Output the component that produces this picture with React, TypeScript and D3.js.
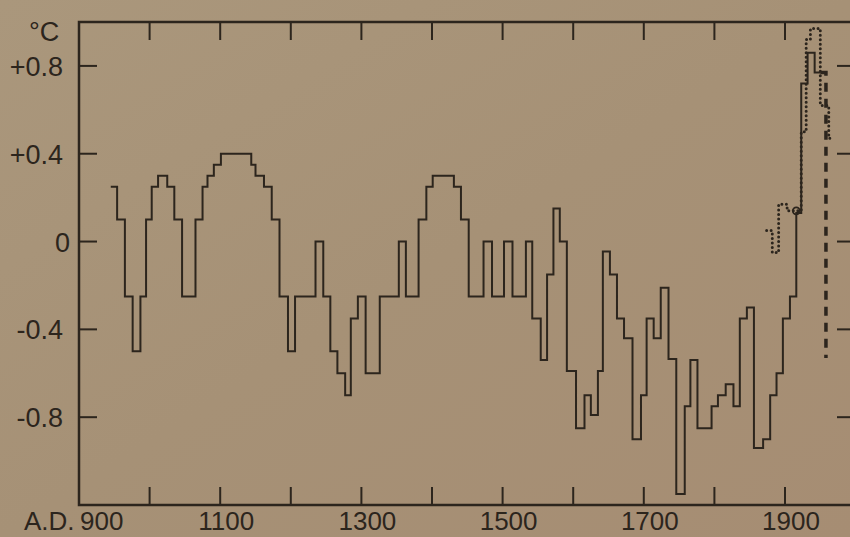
import React from 'react';
import * as d3 from 'd3';

// Main (solid) series: step starts (year) and temperature anomaly (°C)
const mainYears = [
  945, 954, 965, 976, 987, 995, 1003, 1012, 1025, 1035, 1046, 1065, 1075, 1082, 1091, 1101,
  1144, 1150, 1162, 1173, 1184, 1196, 1206, 1235, 1246, 1256, 1266, 1277, 1285, 1295, 1306,
  1326, 1353, 1363, 1381, 1392, 1401, 1431, 1441, 1452, 1473, 1485, 1502, 1514, 1533, 1542,
  1554, 1563, 1572, 1581, 1591, 1604, 1616, 1625, 1635, 1642, 1652, 1662, 1672, 1684, 1696,
  1704, 1714, 1724, 1735, 1746, 1758, 1766, 1776, 1796, 1805, 1816, 1827, 1836, 1846, 1856,
  1869, 1879, 1888, 1897, 1907, 1916, 1923, 1932, 1942,
];
const mainTemps = [
  0.25, 0.1, -0.25, -0.5, -0.25, 0.1, 0.25, 0.3, 0.25, 0.1, -0.25, 0.1, 0.25, 0.3, 0.35, 0.4,
  0.35, 0.3, 0.25, 0.1, -0.25, -0.5, -0.25, 0.0, -0.25, -0.5, -0.6, -0.7, -0.35, -0.25, -0.6,
  -0.25, 0.0, -0.25, 0.1, 0.25, 0.3, 0.25, 0.1, -0.25, 0.0, -0.25, 0.0, -0.25, 0.0, -0.35,
  -0.54, -0.15, 0.15, 0.0, -0.59, -0.85, -0.7, -0.79, -0.59, -0.045, -0.15, -0.35, -0.44, -0.9, -0.7,
  -0.35, -0.44, -0.21, -0.535, -1.15, -0.75, -0.54, -0.85, -0.75, -0.7, -0.65, -0.75, -0.35, -0.3, -0.94,
  -0.9, -0.7, -0.6, -0.35, -0.25, 0.13, 0.72, 0.86, 0.77,
];
const mainEnd = 1950;

// Dotted series
const dotYears = [1874, 1882, 1891, 1903, 1923, 1930, 1936, 1950, 1962];
const dotTemps = [0.05, -0.05, 0.17, 0.14, 0.5, 0.92, 0.97, 0.62, 0.47];
const dotEnd = 1966;

// Dashed series
const dashYears = [1950, 1958];
const dashTemps = [0.77, -0.53];

const yTicks = [0.8, 0.4, 0, -0.4, -0.8];
const yTickLabels = ['+0.8', '+0.4', '0', '-0.4', '-0.8'];
const xTicks = [1000, 1100, 1200, 1300, 1400, 1500, 1600, 1700, 1800, 1900];
const xLabels = [1100, 1300, 1500, 1700, 1900];

const W = 850;
const H = 537;
const INK = '#2c251d';
const FONT = '"Liberation Sans", Arial, sans-serif';

export default function App() {
  const x = d3.scaleLinear().domain([900, 2000]).range([79, 79 + 1100 * 0.706]);
  const y = d3.scaleLinear().domain([-1.2, 1.0]).range([505, 22]);

  const step = d3
    .line<[number, number]>()
    .x((d) => x(d[0]))
    .y((d) => y(d[1]))
    .curve(d3.curveStepAfter);

  const mainPts: [number, number][] = mainYears.map((yr, i) => [yr, mainTemps[i]]);
  mainPts.push([mainEnd, mainTemps[mainTemps.length - 1]]);
  const dotPts: [number, number][] = dotYears.map((yr, i) => [yr, dotTemps[i]]);
  dotPts.push([dotEnd, dotTemps[dotTemps.length - 1]]);
  const dashPts: [number, number][] = dashYears.map((yr, i) => [yr, dashTemps[i]]);

  const x0 = x(900);
  const x1 = x(2000);
  const yTop = y(1.0);
  const yBot = y(-1.2);
  const tl = 18;
  const rightTickStart = 837;

  return (
    <svg
      width={W}
      height={H}
      style={{ position: 'absolute', left: 0, top: 0 }}
      xmlns="http://www.w3.org/2000/svg"
    >
      <defs>
        <linearGradient id="paper" x1="0" y1="0" x2="1" y2="1">
          <stop offset="0" stopColor="#aa977c" />
          <stop offset="0.5" stopColor="#a69176" />
          <stop offset="1" stopColor="#a68d73" />
        </linearGradient>
      </defs>
      <rect x={0} y={0} width={W} height={H} fill="url(#paper)" />

      {/* frame (right border lies beyond the picture) */}
      <path
        d={`M${x1},${yTop} L${x0},${yTop} L${x0},${yBot} L${x1},${yBot}`}
        fill="none"
        stroke={INK}
        strokeWidth={2.5}
      />

      {/* x ticks top & bottom */}
      {xTicks.map((t) => (
        <g key={t}>
          <line x1={x(t)} x2={x(t)} y1={yTop} y2={yTop + tl} stroke={INK} strokeWidth={2} />
          <line x1={x(t)} x2={x(t)} y1={yBot} y2={yBot - tl} stroke={INK} strokeWidth={2} />
        </g>
      ))}

      {/* y ticks left & right */}
      {yTicks.map((t) => (
        <g key={t}>
          <line x1={x0} x2={x0 + tl} y1={y(t)} y2={y(t)} stroke={INK} strokeWidth={2} />
          <line x1={W + 5} x2={rightTickStart} y1={y(t)} y2={y(t)} stroke={INK} strokeWidth={2} />
        </g>
      ))}

      {/* y labels */}
      {yTicks.map((t, i) => (
        <text
          key={t}
          x={t === 0 ? 70 : 63}
          y={y(t) + 10}
          textAnchor="end"
          fontFamily={FONT}
          fontSize={27}
          fill={INK}
        >
          {yTickLabels[i]}
        </text>
      ))}
      <text x={29} y={41} fontFamily={FONT} fontSize={27} fill={INK}>
        °C
      </text>

      {/* x labels */}
      <text x={24} y={530} fontFamily={FONT} fontSize={26} fill={INK}>
        A.D.
      </text>
      <text x={x0 + 1} y={530} fontFamily={FONT} fontSize={26} fill={INK}>
        900
      </text>
      {xLabels.map((t) => (
        <text
          key={t}
          x={x(t) + 6}
          y={530}
          textAnchor="middle"
          fontFamily={FONT}
          fontSize={26}
          fill={INK}
        >
          {t}
        </text>
      ))}

      {/* series */}
      <path d={step(mainPts) || ''} fill="none" stroke={INK} strokeWidth={2} />
      <path
        d={step(dotPts) || ''}
        fill="none"
        stroke={INK}
        strokeWidth={3}
        strokeLinecap="round"
        strokeDasharray="0 4.5"
      />
      <path
        d={step(dashPts) || ''}
        fill="none"
        stroke={INK}
        strokeWidth={3.5}
        strokeDasharray="9 7"
      />
      <circle cx={x(1916)} cy={y(0.14)} r={3.5} fill="none" stroke={INK} strokeWidth={1.8} />
    </svg>
  );
}
